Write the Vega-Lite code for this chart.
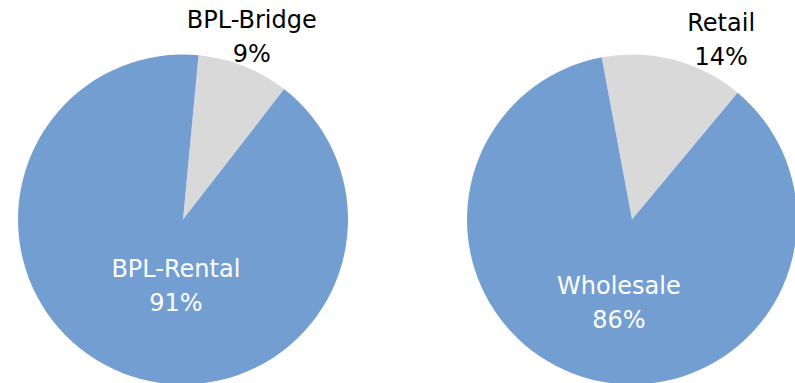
{
  "$schema": "https://vega.github.io/schema/vega-lite/v6.json",
  "padding": 0,
  "spacing": 101,
  "background": "white",
  "config": {"view": {"stroke": null}, "text": {"font": "DejaVu Sans", "fontSize": 24, "lineHeight": 34, "lineBreak": "\n", "baseline": "middle", "align": "center"}},
  "datasets": {
    "bpl": [{"segment": "BPL-Bridge", "share": 9}, {"segment": "BPL-Rental", "share": 91}],
    "channel": [{"segment": "Retail", "share": 14}, {"segment": "Wholesale", "share": 86}]
  },
  "hconcat": [
    {
      "width": 366,
      "height": 439,
      "data": {"name": "bpl"},
      "transform": [{"calculate": "datum.segment + '\\n' + datum.share + '%'", "as": "label"}],
      "encoding": {
        "theta": {"field": "share", "type": "quantitative", "stack": true, "scale": {"range": [0.0942, 6.3774]}},
        "color": {"field": "segment", "type": "nominal", "scale": {"domain": ["BPL-Bridge", "BPL-Rental"], "range": ["#D9D9D9", "#739ED2"]}, "legend": null}
      },
      "layer": [
        {"mark": {"type": "arc", "outerRadius": 165}},
        {"mark": {"type": "text", "radius": 195, "dx": -3, "dy": -17}, "encoding": {"text": {"condition": {"test": "datum.segment == 'BPL-Bridge'", "field": "label"}, "value": ""}, "color": {"value": "black"}}},
        {"mark": {"type": "text", "radius": 52, "dx": 12, "dy": 2}, "encoding": {"text": {"condition": {"test": "datum.segment == 'BPL-Rental'", "field": "label"}, "value": ""}, "color": {"value": "white"}}}
      ]
    },
    {
      "width": 330,
      "height": 439,
      "data": {"name": "channel"},
      "transform": [{"calculate": "datum.segment + '\\n' + datum.share + '%'", "as": "label"}],
      "encoding": {
        "theta": {"field": "share", "type": "quantitative", "stack": true, "scale": {"range": [-0.185, 6.0982]}},
        "color": {"field": "segment", "type": "nominal", "scale": {"domain": ["Retail", "Wholesale"], "range": ["#D9D9D9", "#739ED2"]}, "legend": null}
      },
      "layer": [
        {"mark": {"type": "arc", "outerRadius": 165}},
        {"mark": {"type": "text", "radius": 195, "dx": 40, "dy": -7}, "encoding": {"text": {"condition": {"test": "datum.segment == 'Retail'", "field": "label"}, "value": ""}, "color": {"value": "black"}}},
        {"mark": {"type": "text", "radius": 68, "dx": 4, "dy": 2}, "encoding": {"text": {"condition": {"test": "datum.segment == 'Wholesale'", "field": "label"}, "value": ""}, "color": {"value": "white"}}}
      ]
    }
  ],
  "resolve": {"scale": {"color": "independent", "theta": "independent"}}
}
